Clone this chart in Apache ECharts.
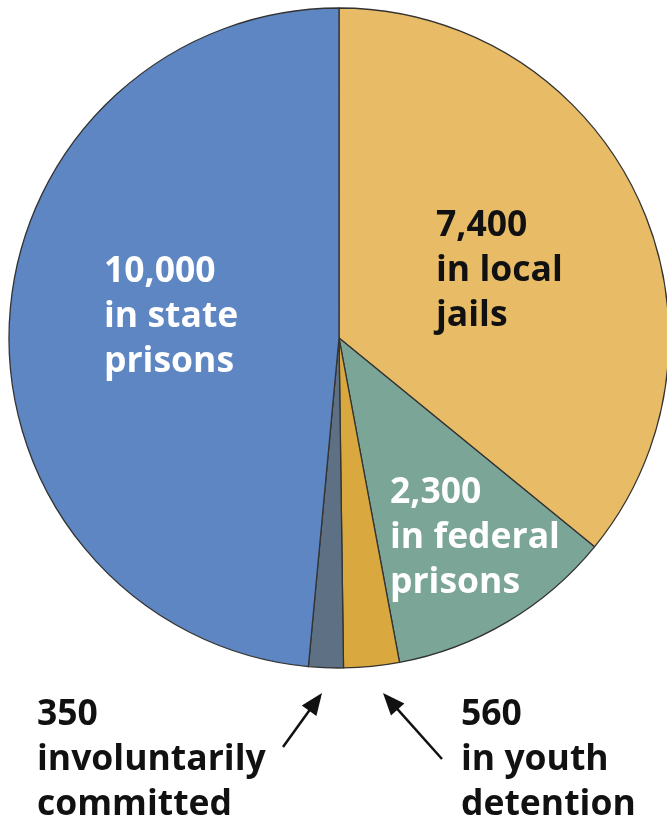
<!DOCTYPE html>
<html>
<head>
<meta charset="utf-8">
<script src="https://cdn.jsdelivr.net/npm/echarts@6/dist/echarts.min.js"></script>
<style>
html,body{margin:0;padding:0;background:#fff;}
#chart{width:667px;height:821px;}
</style>
</head>
<body>
<div id="chart"></div>
<script>
// Data
const categories = ['in local jails', 'in federal prisons', 'in youth detention', 'involuntarily committed', 'in state prisons'];
const values = [7400, 2300, 560, 350, 10000];
const valueLabels = ['7,400', '2,300', '560', '350', '10,000'];
const labelLines = [
  ['7,400', 'in local', 'jails'],
  ['2,300', 'in federal', 'prisons'],
  ['560', 'in youth', 'detention'],
  ['350', 'involuntarily', 'committed'],
  ['10,000', 'in state', 'prisons']
];

// Styles
const colors = ['#e8bb67', '#7aa597', '#d9a83f', '#5e7184', '#5d86c2'];
const textColors = ['#111111', '#ffffff', '#111111', '#111111', '#ffffff'];
// label anchor (left x, middle y of the 3-line block)
const labelPos = [
  [436, 271],
  [390, 538],
  [461, 760],
  [37, 760],
  [104, 317]
];

const chart = echarts.init(document.getElementById('chart'), null, {renderer: 'canvas'});

const data = categories.map((c, i) => ({
  name: c,
  value: values[i],
  itemStyle: {color: colors[i]},
  label: {color: textColors[i]}
}));

function arrow(x1, y1, x2, y2) {
  const ang = Math.atan2(y2 - y1, x2 - x1);
  const len = 22, half = 9;
  const bx = x2 - len * Math.cos(ang), by = y2 - len * Math.sin(ang);
  const px = -Math.sin(ang), py = Math.cos(ang);
  return [
    {type: 'line', shape: {x1: x1, y1: y1, x2: bx + 4 * Math.cos(ang), y2: by + 4 * Math.sin(ang)},
      style: {stroke: '#111', lineWidth: 2.5}, z: 10},
    {type: 'polygon', shape: {points: [[x2, y2], [bx + px * half, by + py * half], [bx - px * half, by - py * half]]},
      style: {fill: '#111'}, z: 10}
  ];
}

chart.setOption({
  animation: false,
  backgroundColor: '#ffffff',
  series: [{
    type: 'pie',
    center: [339, 338],
    radius: [0, 330],
    startAngle: 90,
    clockwise: true,
    data: data,
    itemStyle: {borderColor: '#333333', borderWidth: 1.3},
    emphasis: {disabled: true},
    label: {
      show: true,
      position: 'inside',
      fontFamily: 'Open Sans',
      fontWeight: 700,
      fontSize: 35.5,
      lineHeight: 45,
      align: 'left',
      formatter: function (p) { return labelLines[p.dataIndex].join('\n'); }
    },
    labelLine: {show: false},
    labelLayout: function (p) {
      const pos = labelPos[p.dataIndex];
      return {x: pos[0], y: pos[1], align: 'left', verticalAlign: 'middle'};
    }
  }],
  graphic: [].concat(arrow(283, 747, 322, 693), arrow(442, 759, 383, 693))
});
</script>
</body>
</html>
